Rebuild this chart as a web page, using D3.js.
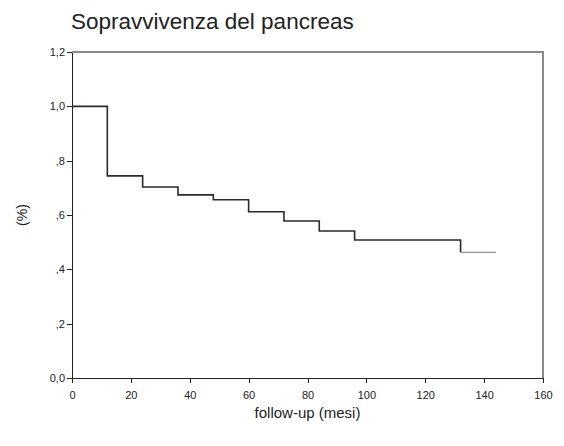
<!DOCTYPE html>
<meta charset="utf-8">
<style>
body { margin:0; background:#fff; font-family: "Liberation Sans", Arial, sans-serif; }
.axis path, .axis line { stroke:#222; shape-rendering:crispEdges; }
.axis text { font-size:11px; fill:#222; }
.frame { stroke:#8a8a8a; fill:none; stroke-width:1.5; shape-rendering:crispEdges; }
.km { stroke:#2a2a2a; stroke-width:1.6; fill:none; }
</style>
<body>
<script src="https://d3js.org/d3.v7.min.js"></script>
<script>
// Kaplan-Meier steps: time (mesi) where each level starts, and the survival level
var stepTimes = [0, 12, 24, 36, 48, 60, 72, 84, 96, 132];
var survival  = [1.0, 0.744, 0.703, 0.674, 0.656, 0.612, 0.578, 0.541, 0.508, 0.463];
var lastTime = 144;

var xTicks = [0, 20, 40, 60, 80, 100, 120, 140, 160];
var yTicks = [0, 0.2, 0.4, 0.6, 0.8, 1.0, 1.2];
var yTickLabels = ["0,0", ",2", ",4", ",6", ",8", "1,0", "1,2"];

var W = 564, H = 446;
var margin = {top: 52, right: 21, bottom: 68, left: 72};
var width = W - margin.left - margin.right,
    height = H - margin.top - margin.bottom;

var x = d3.scaleLinear().domain([0, 160]).range([0, width]);
var y = d3.scaleLinear().domain([0, 1.2]).range([height, 0]);

var svg = d3.select("body").append("svg")
    .attr("width", W).attr("height", H);

svg.append("text")
    .attr("x", 71).attr("y", 29)
    .style("font-size", "22.5px").style("fill", "#222")
    .text("Sopravvivenza del pancreas");

var g = svg.append("g")
    .attr("transform", "translate(" + margin.left + "," + margin.top + ")");

// top and right borders
g.append("path").attr("class", "frame")
    .attr("d", "M0," + y(1.2) + "H" + x(160) + "V" + y(0));

var xAxis = d3.axisBottom(x).tickValues(xTicks).tickSize(5).tickSizeOuter(0);
var yAxis = d3.axisLeft(y).tickValues(yTicks).tickSize(5).tickSizeOuter(0)
    .tickFormat(function(d, i) { return yTickLabels[i]; });

g.append("g").attr("class", "axis")
    .attr("transform", "translate(0," + height + ")")
    .call(xAxis)
    .call(function(s) { s.selectAll("text").attr("dy", "1.2em"); s.select(".domain").attr("stroke", "#555").attr("stroke-width", 1.5); });

g.append("g").attr("class", "axis")
    .call(yAxis)
    .call(function(s) { s.select(".domain").attr("stroke-width", 1.5); s.selectAll("text").attr("x", -7); });

// step curve
var pts = stepTimes.map(function(t, i) { return [t, survival[i]]; });
var line = d3.line()
    .x(function(d) { return x(d[0]); })
    .y(function(d) { return y(d[1]); })
    .curve(d3.curveStepAfter);
g.append("path").attr("class", "km").attr("d", line(pts));

// last, censored stretch is drawn lighter in the original
var tail = [pts[pts.length - 1], [lastTime, survival[survival.length - 1]]];
g.append("path").attr("class", "km")
    .style("stroke", "#777").style("stroke-width", 1.1)
    .attr("d", line(tail));

svg.append("text")
    .attr("x", margin.left + width / 2).attr("y", 418)
    .attr("text-anchor", "middle")
    .style("font-size", "15px").style("fill", "#222")
    .text("follow-up (mesi)");

svg.append("text")
    .attr("transform", "translate(27," + (margin.top + height / 2) + ") rotate(-90)")
    .attr("text-anchor", "middle")
    .style("font-size", "14px").style("fill", "#222")
    .text("(%)");
</script>
